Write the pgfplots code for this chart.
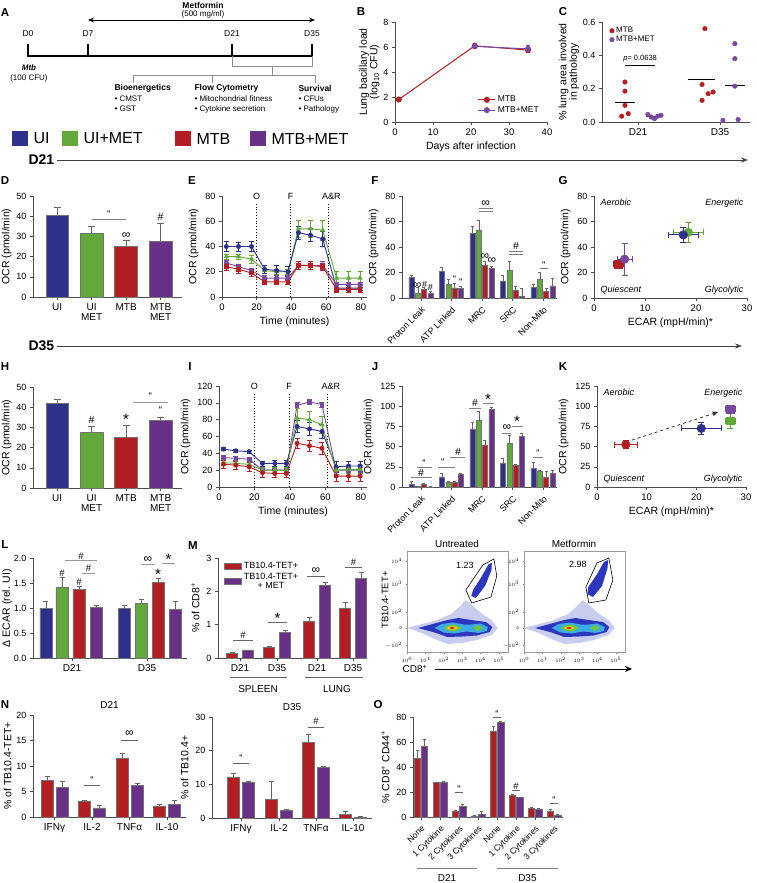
\documentclass[border=0pt]{standalone}
\usepackage{pgfplots}
\pgfplotsset{compat=1.18}
\usepackage{fontspec}
\setmainfont{Liberation Sans}
\usetikzlibrary{arrows.meta}
\definecolor{cUI}{RGB}{46,49,140}
\definecolor{cUM}{RGB}{98,168,58}
\definecolor{cMT}{RGB}{178,30,34}
\definecolor{cMM}{RGB}{104,48,135}
\definecolor{cMMl}{RGB}{118,72,158}
\definecolor{fS}{RGB}{200,205,240}
\definecolor{fB}{RGB}{45,55,190}
\definecolor{fC}{RGB}{60,170,230}
\definecolor{fG}{RGB}{110,200,60}
\definecolor{fY}{RGB}{240,215,40}
\definecolor{fR}{RGB}{220,40,30}
\newcommand{\fs}[1]{\fontsize{#1}{#1}\selectfont}
\newcommand{\qq}{{\fs{10}``}}
\newcommand{\inff}{{\fs{12}∞}}
\pgfplotsset{
  base/.style={scale only axis, anchor=south west, clip=false,
    axis x line*=bottom, axis y line*=left,
    axis line style={line width=0.7pt, black!70},
    every tick/.style={line width=0.6pt, black!70},
    tick align=outside, major tick length=3pt,
    font=\fs{9}, /pgf/number format/assume math mode=true,
    xlabel style={font=\fs{10.5}}, ylabel style={font=\fs{10.5}, align=center},
    xticklabel style={font=\fs{9.5}}, yticklabel style={font=\fs{9}}},
  mybar/.style={ybar, bar shift=0pt, fill=#1, draw=black!55, line width=0.5pt},
  ebp/.style={error bars/.cd, y dir=plus, y explicit,
    error bar style={line width=0.6pt, black!60},
    error mark options={rotate=90, mark size=#1, line width=0.6pt, black!60}},
  ebb/.style={error bars/.cd, y dir=both, y explicit,
    error bar style={line width=0.7pt},
    error mark options={rotate=90, mark size=#1, line width=0.7pt}},
  ebxy/.style={error bars/.cd, y dir=both, y explicit, x dir=both, x explicit,
    error bar style={line width=0.8pt},
    error mark options={rotate=90, mark size=#1, line width=0.8pt}},
  flow/.style={scale only axis, anchor=south west, axis lines=box,
    axis line style={black!40, line width=0.5pt}, xmin=0, xmax=5.5, ymin=0, ymax=101,
    width=101pt, height=101pt, xtick={0,...,5},
    xticklabels={$10^0$,$10^1$,$10^2$,$10^3$,$10^4$,$10^5$},
    ytick={7,24,40,68,91}, yticklabels={$-10^2$,0,$10^2$,$10^3$,$10^4$},
    tick label style={font=\fs{4}}, major tick length=1.5pt, tick align=outside,
    tick pos=left, every tick/.style={black!50}, clip=true},
}
\newcommand{\flowblobs}{%
  \addplot[fill=fS, draw=none] coordinates {(0,24) (0.8,19) (1.5,13) (2.2,8) (3,9) (3.8,12) (4.6,17) (4.95,24) (4.6,32) (4.1,38) (3.6,46) (3.2,52) (2.9,46) (2.4,38) (1.5,31) (0.8,28) (0,24)};
  \addplot[fill=fB, draw=none] coordinates {(0.6,24) (1.5,19.5) (2.2,15) (3,15.5) (3.8,16.5) (4.5,20) (4.65,25) (4.3,30) (3.5,32) (2.8,34) (2.2,32) (1.5,28.5) (0.6,24)};
  \addplot[fill=fC, draw=none] coordinates {(1.5,24) (2.0,19.5) (2.6,18.5) (3.2,20.5) (3.55,20) (3.9,19) (4.35,21) (4.4,25) (4.0,28.5) (3.5,27.5) (3.1,27.5) (2.5,29.5) (1.9,28) (1.5,24)};
  \addplot[fill=fG, draw=none] coordinates {(2.0,24) (2.3,20.8) (2.7,20.8) (3.0,24) (2.7,27.2) (2.3,27.2) (2.0,24)};
  \addplot[fill=fG, draw=none] coordinates {(3.6,24) (3.85,21) (4.15,24) (3.85,27) (3.6,24)};
  \addplot[fill=fY, draw=none] coordinates {(2.15,24) (2.45,21.8) (2.78,24) (2.45,26.2) (2.15,24)};
  \addplot[fill=fR, draw=none] coordinates {(2.3,24) (2.45,22.6) (2.62,24) (2.45,25.4) (2.3,24)};
}
\begin{document}
\begin{tikzpicture}[x=1pt,y=1pt]
\useasboundingbox (0,0) rectangle (756,-883);
% ---------- Panel A ----------
\node[font=\bfseries\fs{11.5}] at (5,-13) {A};
\node[font=\bfseries\fs{8.5}] at (203,-5) {Metformin};
\node[font=\fs{8}] at (203,-14.5) {(500 mg/ml)};
\draw[line width=0.8pt, {Stealth[length=6pt,width=5pt]}-{Stealth[length=6pt,width=5pt]}] (88,-20) -- (315,-20);
\foreach \x/\l in {28/D0, 88/D7, 232/D21, 312/D35} \node[font=\fs{8.5}] at (\x,-34) {\l};
\draw[line width=1.6pt] (28,-56) -- (313,-56);
\foreach \x in {28,88,232,312} \draw[line width=1.6pt] (\x,-56.8) -- (\x,-44);
\draw[black!45, line width=0.6pt] (232,-56) -- (232,-66) -- (312,-66) -- (312,-56);
\draw[black!45, line width=0.6pt] (272,-66) -- (272,-75);
\draw[black!45, line width=0.6pt] (133,-83) -- (133,-75) -- (315,-75) -- (315,-83);
\draw[black!45, line width=0.6pt] (212,-75) -- (212,-83);
\node[font=\bfseries\itshape\fs{8}] at (29,-68) {Mtb};
\node[font=\fs{8}] at (29,-78) {(100 CFU)};
\node[anchor=west, font=\bfseries\fs{8.5}] at (111,-88) {Bioenergetics};
\node[anchor=west, font=\fs{8}] at (111,-99) {• CMST};
\node[anchor=west, font=\fs{8}] at (111,-109) {• GST};
\node[anchor=west, font=\bfseries\fs{8.5}] at (191,-88) {Flow Cytometry};
\node[anchor=west, font=\fs{8}] at (191,-99) {• Mitochondrial fitness};
\node[anchor=west, font=\fs{8}] at (191,-109) {• Cytokine secretion};
\node[anchor=west, font=\bfseries\fs{8.5}] at (295,-88) {Survival};
\node[anchor=west, font=\fs{8}] at (295,-99) {• CFUs};
\node[anchor=west, font=\fs{8}] at (295,-109) {• Pathology};
% ---------- legend row and headers ----------
\foreach \x/\c/\l in {12/cUI/UI, 62/cUM/UI+MET, 175/cMT/MTB, 250/cMM/MTB+MET} {
  \fill[\c] (\x,-131) rectangle ++(16,-15);
  \node[anchor=west, font=\fs{16}] at (\x+18,-138.5) {\l};
}
\node[anchor=west, font=\bfseries\fs{14}] at (25,-160) {D21};
\draw[black!75, line width=0.6pt, -{Stealth[length=7pt,width=5pt]}] (57,-160) -- (748,-160);
\node[anchor=west, font=\bfseries\fs{14}] at (25,-346) {D35};
\draw[black!75, line width=0.6pt, -{Stealth[length=7pt,width=5pt]}] (57,-346) -- (742,-346);
% panel letters
\foreach \x/\y/\l in {361/12/B, 563/12/C, 5/181/D, 192/181/E, 375/181/F, 563/181/G, 5/367/H, 190/367/I, 375/367/J, 563/367/K, 5/545/L, 193/546/M, 5/705/N, 378/705/O}
  \node[font=\bfseries\fs{11.5}] at (\x,-\y) {\l};
% ---------- Panel B ----------
\begin{axis}[base, at={(395pt,-122pt)}, width=152pt, height=100pt, xmin=0, xmax=40, ymin=0, ymax=8,
  xtick={0,10,...,40}, ytick={0,2,...,8}, xlabel={Days after infection},
  ylabel={Lung bacillary load\\(log\textsubscript{10} CFU)}, ylabel style={yshift=-3pt},
  legend style={at={(0.98,0.04)}, anchor=south east, draw=none, fill=none, font=\fs{8.5}, row sep=-1pt},
  legend cell align=left]
\addplot[cMT, line width=1pt, mark=*, mark size=2.5pt, ebb=2pt] coordinates {(1,1.8)+-(0,0.05) (21,6.1)+-(0,0.1) (35,5.75)+-(0,0.2)};
\addlegendentry{MTB}
\addplot[cMMl, line width=1pt, mark=*, mark size=2.5pt, ebb=2pt] coordinates {(21,6.05)+-(0,0.05) (35,5.85)+-(0,0.25)};
\addlegendentry{MTB+MET}
\end{axis}
% ---------- Panel C ----------
\begin{axis}[base, at={(602pt,-122pt)}, width=148pt, height=100pt, xmin=0.12, xmax=3.73, ymin=0, ymax=0.6,
  ytick={0,0.2,0.4,0.6}, yticklabel style={/pgf/number format/.cd, fixed, fixed zerofill, precision=1},
  xtick={1,3}, xticklabels={D21,D35}, xticklabel style={font=\fs{10}},
  ylabel={\% lung area involved\\in pathology}, ylabel style={yshift=-3pt},
  legend style={at={(0.03,0.99)}, anchor=north west, draw=none, fill=none, font=\fs{8}, row sep=-2pt},
  legend cell align=left]
\addplot[only marks, mark=*, mark size=2.3pt, cMT, draw=cMT] coordinates {(0.68,0.24) (0.68,0.185) (0.68,0.1) (0.6,0.035) (0.76,0.05) (2.56,0.225) (2.56,0.13) (2.63,0.56) (2.71,0.17) (2.83,0.18)};
\addlegendentry{MTB}
\addplot[only marks, mark=*, mark size=2.3pt, cMMl, draw=cMMl] coordinates {(1.24,0.045) (1.32,0.03) (1.4,0.02) (1.48,0.035) (1.56,0.04) (3.36,0.47) (3.36,0.38) (3.07,0.01) (3.44,0.015) (3.36,0.215)};
\addlegendentry{MTB+MET}
\addplot[black, line width=0.9pt, forget plot] coordinates {(0.44,0.12) (0.92,0.12)};
\addplot[black, line width=0.9pt, forget plot] coordinates {(1.2,0.035) (1.6,0.035)};
\addplot[black, line width=0.9pt, forget plot] coordinates {(2.22,0.255) (2.88,0.255)};
\addplot[black, line width=0.9pt, forget plot] coordinates {(3.12,0.218) (3.61,0.218)};
\draw[black, line width=0.5pt] (axis cs:0.68,0.342) -- (axis cs:1.41,0.342);
\node[font=\fs{7.5}] at (axis cs:1.05,0.378) {\textit{p}= 0.0638};
\end{axis}
% ---------- Panel D ----------
\begin{axis}[base, at={(33pt,-297pt)}, width=149pt, height=101pt, xmin=0.3, xmax=4.62, ymin=0, ymax=50,
  ytick={0,10,...,50}, xtick={1,2,3,4}, xticklabels={UI,UI\\MET,MTB,MTB\\MET},
  xticklabel style={align=center, font=\fs{10}}, ylabel={OCR (pmol/min)}, ylabel style={yshift=-2pt}, bar width=0.66]
\addplot[mybar=cUI, ebp=3.5pt] coordinates {(1,40.5)+-(0,4)};
\addplot[mybar=cUM, ebp=3.5pt] coordinates {(2,31.5)+-(0,3.5)};
\addplot[mybar=cMT, ebp=3.5pt] coordinates {(3,25)+-(0,3)};
\addplot[mybar=cMM, ebp=3.5pt] coordinates {(4,27.5)+-(0,9)};
\draw[black!50, line width=0.6pt] (axis cs:2,38.5) -- (axis cs:3,38.5);
\node at (axis cs:2.5,41) {\qq};
\node at (axis cs:3,30.5) {\inff};
\node[font=\fs{10.5}] at (axis cs:4,39.5) {\#};
\end{axis}
% ---------- Panel E ----------
\begin{axis}[base, at={(222pt,-297pt)}, width=145pt, height=101pt, xmin=0, xmax=83.5, ymin=0, ymax=80,
  xtick={0,20,...,80}, ytick={0,20,...,80}, xlabel={Time (minutes)}, ylabel={OCR (pmol/min)}]
\draw[black, dotted, line width=0.8pt] (axis cs:20,0) -- (axis cs:20,75);
\draw[black, dotted, line width=0.8pt] (axis cs:39.5,0) -- (axis cs:39.5,75);
\draw[black, dotted, line width=0.8pt] (axis cs:61,0) -- (axis cs:61,75);
\node[font=\fs{9}] at (axis cs:20,80) {O};
\node[font=\fs{9}] at (axis cs:39.5,80) {F};
\node[font=\fs{9}] at (axis cs:63,80) {A\&R};
\addplot[cUM, line width=0.9pt, mark=triangle*, mark size=2.2pt, ebb=2.5pt] coordinates {(2.5,32)+-(0,2) (9.5,32)+-(0,2) (17,30)+-(0,3) (24.5,21)+-(0,2) (31.5,20)+-(0,2) (38,20)+-(0,2) (44,54)+-(0,7) (51,54)+-(0,7) (58,53)+-(0,8) (66,15)+-(0,5) (73,15)+-(0,5) (79.5,15)+-(0,5)};
\addplot[cUI, line width=0.9pt, mark=*, mark size=2pt, ebb=2.5pt] coordinates {(2.5,40)+-(0,4) (9.5,40)+-(0,3.5) (17,40)+-(0,4) (24.5,22)+-(0,3) (31.5,21)+-(0,4) (38,20)+-(0,4) (44,51)+-(0,5) (51,49)+-(0,5) (58,46)+-(0,6) (66,7)+-(0,2) (73,7)+-(0,2) (79.5,7)+-(0,2)};
\addplot[cMMl, line width=0.9pt, mark=*, mark size=2pt, ebb=2.5pt] coordinates {(2.5,27)+-(0,2) (9.5,24)+-(0,2) (17,21)+-(0,2) (24.5,15)+-(0,2) (31.5,15)+-(0,2) (38,15)+-(0,2) (44,25)+-(0,3) (51,25)+-(0,3) (58,25)+-(0,3) (66,10)+-(0,2) (73,10)+-(0,2) (79.5,10)+-(0,2)};
\addplot[cMT, line width=0.9pt, mark=square*, mark size=1.8pt, ebb=2.5pt] coordinates {(2.5,24)+-(0,3) (9.5,22)+-(0,3) (17,19)+-(0,3) (24.5,12)+-(0,2) (31.5,12)+-(0,2) (38,12)+-(0,2) (44,25)+-(0,3) (51,25)+-(0,3) (58,24)+-(0,3) (66,6)+-(0,2) (73,6)+-(0,2) (79.5,6)+-(0,2)};
\end{axis}
% ---------- Panel F ----------
\begin{axis}[base, at={(402pt,-298pt)}, width=155pt, height=102pt, xmin=-0.62, xmax=4.46, ymin=0, ymax=80,
  ytick={0,20,...,80}, xtick={0,...,4}, xticklabels={Proton Leak,ATP Linked,MRC,SRC,Non-Mito},
  xticklabel style={rotate=45, anchor=north east, font=\fs{9}}, ylabel={OCR (pmol/min)}, bar width=0.17]
\addplot[mybar=cUI, ebp=1.5pt] coordinates {(-0.31,16)+-(0,1.5) (0.69,21)+-(0,3) (1.69,50.5)+-(0,5.5) (2.69,13.5)+-(0,4.5) (3.69,8.5)+-(0,2.5)};
\addplot[mybar=cUM, ebp=1.5pt] coordinates {(-0.1,4)+-(0,4.5) (0.9,10.5)+-(0,4.5) (1.9,53)+-(0,8) (2.9,22)+-(0,6.5) (3.9,14.5)+-(0,5.5)};
\addplot[mybar=cMT, ebp=1.5pt] coordinates {(0.1,6.5)+-(0,2) (1.1,8)+-(0,3.5) (2.1,26)+-(0,3) (3.1,6)+-(0,3.5) (4.1,5)+-(0,3)};
\addplot[mybar=cMM, ebp=1.5pt] coordinates {(0.31,4)+-(0,1.5) (1.31,7.5)+-(0,1.5) (2.31,23.5)+-(0,1.5) (3.31,1.5)+-(0,6) (4.31,9.5)+-(0,6)};
\node at (axis cs:-0.12,10) {\inff};
\node[font=\fs{9}] at (axis cs:0.12,10.5) {\#};
\node[font=\fs{9}] at (axis cs:0.31,8.5) {\#};
\node at (axis cs:1.1,14.5) {\qq};
\node at (axis cs:1.31,12.5) {\qq};
\draw[black!50, line width=0.6pt] (axis cs:1.9,68) -- (axis cs:2.35,68);
\draw[black!50, line width=0.6pt] (axis cs:1.9,70.5) -- (axis cs:2.35,70.5);
\node at (axis cs:2.12,74) {\inff};
\node at (axis cs:2.1,32.5) {\inff};
\node at (axis cs:2.33,29.5) {\inff};
\draw[black!50, line width=0.6pt] (axis cs:2.9,34) -- (axis cs:3.35,34);
\draw[black!50, line width=0.6pt] (axis cs:2.9,36.5) -- (axis cs:3.35,36.5);
\node[font=\fs{10.5}] at (axis cs:3.12,41) {\#};
\draw[black!50, line width=0.6pt] (axis cs:3.9,23) -- (axis cs:4.15,23);
\node at (axis cs:4.03,26) {\qq};
\end{axis}
% ---------- Panel G ----------
\begin{axis}[base, at={(594pt,-298pt)}, width=153pt, height=102pt, xmin=0, xmax=30, ymin=0, ymax=80,
  xtick={0,10,20,30}, ytick={0,20,...,80}, xlabel={ECAR (mpH/min)*}, ylabel={OCR (pmol/min)}]
\node[anchor=north west, font=\itshape\fs{9}] at (rel axis cs:0.02,1.01) {Aerobic};
\node[anchor=north east, font=\itshape\fs{9}] at (rel axis cs:1,1.01) {Energetic};
\node[anchor=south west, font=\itshape\fs{9}] at (rel axis cs:0.02,0.0) {Quiescent};
\node[anchor=south east, font=\itshape\fs{9}] at (rel axis cs:1,0.0) {Glycolytic};
\addplot[cUM, only marks, mark=*, mark size=4.3pt, ebxy=3pt] coordinates {(18.5,51.5)+-(3,8)};
\addplot[cUI, only marks, mark=*, mark size=4.3pt, ebxy=3pt] coordinates {(17.5,49.5)+-(3,6)};
\addplot[cMT, only marks, mark=square*, mark size=3.8pt, ebxy=3pt] coordinates {(4.8,26.5)+-(1,3)};
\addplot[cMMl, only marks, mark=*, mark size=4.3pt, ebxy=3pt] coordinates {(6,30.5)+-(1.5,12.5)};
\end{axis}
% ---------- Panel H ----------
\begin{axis}[base, at={(33pt,-488pt)}, width=149pt, height=101pt, xmin=0.3, xmax=4.62, ymin=0, ymax=50,
  ytick={0,10,...,50}, xtick={1,2,3,4}, xticklabels={UI,UI\\MET,MTB,MTB\\MET},
  xticklabel style={align=center, font=\fs{10}}, ylabel={OCR (pmol/min)}, ylabel style={yshift=-2pt}, bar width=0.66]
\addplot[mybar=cUI, ebp=3.5pt] coordinates {(1,42)+-(0,2)};
\addplot[mybar=cUM, ebp=3.5pt] coordinates {(2,27.5)+-(0,3)};
\addplot[mybar=cMT, ebp=3.5pt] coordinates {(3,25)+-(0,6)};
\addplot[mybar=cMM, ebp=3.5pt] coordinates {(4,33.5)+-(0,1.5)};
\node[font=\fs{10.5}] at (axis cs:2,33.5) {\#};
\node[font=\fs{15}] at (axis cs:3,34) {*};
\node at (axis cs:4,38.5) {\qq};
\draw[black!40, line width=1pt] (axis cs:3.2,42.5) -- (axis cs:4.2,42.5);
\node at (axis cs:3.7,45.3) {\qq};
\end{axis}
% ---------- Panel I ----------
\begin{axis}[base, at={(219pt,-487pt)}, width=148pt, height=101pt, xmin=0, xmax=83.4, ymin=0, ymax=120,
  xtick={0,20,...,80}, ytick={0,20,...,120}, xlabel={Time (minutes)}, ylabel={OCR (pmol/min)}]
\draw[black, dotted, line width=0.8pt] (axis cs:20,0) -- (axis cs:20,112);
\draw[black, dotted, line width=0.8pt] (axis cs:39.5,0) -- (axis cs:39.5,112);
\draw[black, dotted, line width=0.8pt] (axis cs:61,0) -- (axis cs:61,112);
\node[font=\fs{9}] at (axis cs:20,120) {O};
\node[font=\fs{9}] at (axis cs:39.5,120) {F};
\node[font=\fs{9}] at (axis cs:63,120) {A\&R};
\addplot[cMMl, line width=0.9pt, mark=square*, mark size=1.8pt, ebb=2.5pt] coordinates {(2.5,35)+-(0,2) (9.5,34)+-(0,2) (17,33)+-(0,2) (24.5,20)+-(0,2) (31.5,20)+-(0,2) (38,20)+-(0,2) (44,97)+-(0,3) (51,101)+-(0,3) (58,98)+-(0,3) (66,20)+-(0,3) (73,20)+-(0,3) (79.5,20)+-(0,3)};
\addplot[cUI, line width=0.9pt, mark=*, mark size=2pt, ebb=2.5pt] coordinates {(2.5,45)+-(0,2) (9.5,43)+-(0,2) (17,42)+-(0,2) (24.5,28)+-(0,3) (31.5,28)+-(0,4) (38,28)+-(0,4) (44,72)+-(0,7) (51,69)+-(0,8) (58,66)+-(0,8) (66,24)+-(0,6) (73,25)+-(0,6) (79.5,25)+-(0,6)};
\addplot[cUM, line width=0.9pt, mark=triangle*, mark size=2.2pt, ebb=2.5pt] coordinates {(2.5,29)+-(0,3) (9.5,28)+-(0,3) (17,27)+-(0,3) (24.5,20)+-(0,3) (31.5,20)+-(0,3) (38,20)+-(0,3) (44,82)+-(0,12) (51,80)+-(0,10) (58,74)+-(0,10) (66,20)+-(0,5) (73,21)+-(0,5) (79.5,21)+-(0,5)};
\addplot[cMT, line width=0.9pt, mark=*, mark size=2pt, ebb=2.5pt] coordinates {(2.5,27)+-(0,5) (9.5,26)+-(0,5) (17,24)+-(0,5) (24.5,17)+-(0,5) (31.5,16)+-(0,5) (38,16)+-(0,5) (44,52)+-(0,6) (51,49)+-(0,7) (58,46)+-(0,7) (66,13)+-(0,6) (73,13)+-(0,6) (79.5,13)+-(0,6)};
\end{axis}
% ---------- Panel J ----------
\begin{axis}[base, at={(402pt,-487pt)}, width=155pt, height=101pt, xmin=-0.62, xmax=4.46, ymin=0, ymax=125,
  ytick={0,25,...,125}, xtick={0,...,4}, xticklabels={Proton Leak,ATP Linked,MRC,SRC,Non-Mito},
  xticklabel style={rotate=45, anchor=north east, font=\fs{9}}, ylabel={OCR (pmol/min)}, bar width=0.17]
\addplot[mybar=cUI, ebp=1.5pt] coordinates {(-0.31,3)+-(0,4) (0.69,12.5)+-(0,5) (1.69,72)+-(0,8) (2.69,29)+-(0,7) (3.69,23.5)+-(0,7)};
\addplot[mybar=cUM, ebp=1.5pt] coordinates {(-0.1,0.5)+-(0,0.5) (0.9,6)+-(0,1) (1.9,82)+-(0,12) (2.9,54.5)+-(0,9) (3.9,19.5)+-(0,1)};
\addplot[mybar=cMT, ebp=1.5pt] coordinates {(0.1,3)+-(0,1) (1.1,6.5)+-(0,1) (2.1,52)+-(0,6) (3.1,26.5)+-(0,2) (4.1,12.5)+-(0,7)};
\addplot[mybar=cMM, ebp=1.5pt] coordinates {(0.31,0.3)+-(0,0.2) (1.31,16)+-(0,1) (2.31,96)+-(0,3) (3.31,62.5)+-(0,4) (4.31,17.5)+-(0,3)};
\draw[black!50, line width=0.6pt] (axis cs:-0.13,25) -- (axis cs:0.36,25);
\node at (axis cs:0.1,29.5) {\qq};
\draw[black!50, line width=0.6pt] (axis cs:-0.33,12) -- (axis cs:0.36,12);
\node[font=\fs{10.5}] at (axis cs:0.0,17.5) {\#};
\draw[black!50, line width=0.6pt] (axis cs:0.56,25) -- (axis cs:1.12,25);
\node at (axis cs:0.72,30.5) {\qq};
\draw[black!50, line width=0.6pt] (axis cs:0.95,37) -- (axis cs:1.45,37);
\node[font=\fs{10.5}] at (axis cs:1.22,44) {\#};
\draw[black!50, line width=0.6pt] (axis cs:1.58,98) -- (axis cs:1.97,98);
\node[font=\fs{10.5}] at (axis cs:1.77,104) {\#};
\draw[black!50, line width=0.6pt] (axis cs:2.04,103) -- (axis cs:2.4,103);
\node[font=\fs{15}] at (axis cs:2.2,109) {*};
\draw[black!50, line width=0.6pt] (axis cs:2.66,67) -- (axis cs:2.95,67);
\node at (axis cs:2.82,73) {\inff};
\draw[black!50, line width=0.6pt] (axis cs:2.99,75) -- (axis cs:3.35,75);
\node[font=\fs{15}] at (axis cs:3.15,81) {*};
\draw[black!50, line width=0.6pt] (axis cs:3.67,37) -- (axis cs:4.0,37);
\node at (axis cs:3.84,42.5) {\qq};
\end{axis}
% ---------- Panel K ----------
\begin{axis}[base, at={(597pt,-487pt)}, width=149pt, height=101pt, xmin=0, xmax=30, ymin=0, ymax=125,
  xtick={0,10,20,30}, ytick={0,25,...,125}, xlabel={ECAR (mpH/min)*}, ylabel={OCR (pmol/min)}]
\node[anchor=north west, font=\itshape\fs{9}] at (rel axis cs:0.02,1.01) {Aerobic};
\node[anchor=north east, font=\itshape\fs{9}] at (rel axis cs:1,1.01) {Energetic};
\node[anchor=south west, font=\itshape\fs{9}] at (rel axis cs:0.02,0.0) {Quiescent};
\node[anchor=south east, font=\itshape\fs{9}] at (rel axis cs:1,0.0) {Glycolytic};
\draw[black!80, dashed, line width=0.8pt, -{Latex[length=6pt,width=5pt]}] (axis cs:7,58) -- (axis cs:24.5,93);
\addplot[cUI, only marks, mark=*, mark size=4.3pt, ebxy=3pt] coordinates {(21,72.5)+-(4,7)};
\addplot[cUM, only marks, mark=square*, mark size=3.8pt, ebxy=3pt] coordinates {(26.8,82)+-(1,10)};
\addplot[cMMl, only marks, mark=square*, mark size=3.8pt, ebxy=3pt] coordinates {(26.8,96)+-(1,4)};
\addplot[cMT, only marks, mark=*, mark size=4.3pt, ebxy=3pt] coordinates {(5.8,52.5)+-(2.3,5)};
\end{axis}
% ---------- Panel L ----------
\begin{axis}[base, at={(33pt,-658pt)}, width=154pt, height=100pt, xmin=0, xmax=154, ymin=0, ymax=2,
  ytick={0,0.5,...,2}, yticklabel style={/pgf/number format/.cd, fixed, fixed zerofill, precision=1},
  xtick={39,114}, xticklabels={D21,D35}, xticklabel style={font=\fs{10}},
  ylabel={Δ ECAR (rel. UI)}, ylabel style={yshift=-5pt}, bar width=12]
\addplot[mybar=cUI, ebp=2.5pt] coordinates {(13,1.0)+-(0,0.13) (91,0.99)+-(0,0.06)};
\addplot[mybar=cUM, ebp=2.5pt] coordinates {(29,1.42)+-(0,0.2) (108,1.1)+-(0,0.07)};
\addplot[mybar=cMT, ebp=2.5pt] coordinates {(46,1.38)+-(0,0.05) (125,1.52)+-(0,0.08)};
\addplot[mybar=cMM, ebp=2.5pt] coordinates {(63,1.01)+-(0,0.04) (142,0.97)+-(0,0.17)};
\node[font=\fs{9.5}] at (axis cs:29,1.7) {\#};
\node[font=\fs{9.5}] at (axis cs:46,1.51) {\#};
\draw[black!40, line width=1pt] (axis cs:32,1.95) -- (axis cs:64,1.95);
\node[font=\fs{9.5}] at (axis cs:48,2.03) {\#};
\draw[black!40, line width=1pt] (axis cs:49,1.7) -- (axis cs:62,1.7);
\node[font=\fs{9.5}] at (axis cs:55.5,1.79) {\#};
\draw[black!40, line width=1pt] (axis cs:108,1.88) -- (axis cs:122,1.88);
\node at (axis cs:115,1.96) {\inff};
\node[font=\fs{15}] at (axis cs:125,1.68) {*};
\draw[black!40, line width=1pt] (axis cs:129,1.9) -- (axis cs:142,1.9);
\node[font=\fs{15}] at (axis cs:135.5,1.98) {*};
\end{axis}
% ---------- Panel M ----------
\begin{axis}[base, at={(218pt,-658pt)}, width=149pt, height=100pt, xmin=0, xmax=149, ymin=0, ymax=3,
  ytick={0,1,2,3}, xtick={22,59,99,135}, xticklabels={D21,D35,D21,D35}, xticklabel style={font=\fs{10}},
  ylabel={\% of CD8\textsuperscript{+}}, bar width=11, area legend,
  legend style={at={(0.02,1.0)}, anchor=north west, draw=none, fill=none, font=\fs{9}, row sep=-1pt, cells={align=center}},
  legend cell align=left]
\addplot[mybar=cMT, ebp=2.5pt] coordinates {(14,0.15)+-(0,0.02) (51,0.33)+-(0,0.03) (91,1.1)+-(0,0.11) (127,1.5)+-(0,0.16)};
\addlegendentry{TB10.4-TET+}
\addplot[mybar=cMM, ebp=2.5pt] coordinates {(30,0.22)+-(0,0.02) (67,0.78)+-(0,0.05) (107,2.17)+-(0,0.1) (143,2.4)+-(0,0.17)};
\addlegendentry{TB10.4-TET+\\+ MET}
\draw[black!60, line width=0.6pt] (axis cs:15,0.54) -- (axis cs:35,0.54);
\node[font=\fs{9.5}] at (axis cs:25,0.69) {\#};
\draw[black!60, line width=0.6pt] (axis cs:50,1.08) -- (axis cs:69,1.08);
\node[font=\fs{15}] at (axis cs:59.5,1.2) {*};
\draw[black!60, line width=0.6pt] (axis cs:89,2.46) -- (axis cs:107,2.46);
\node at (axis cs:98,2.62) {\inff};
\draw[black!60, line width=0.6pt] (axis cs:127,2.73) -- (axis cs:144,2.73);
\node[font=\fs{9.5}] at (axis cs:135.5,2.87) {\#};
\draw[black!60, line width=0.6pt] (axis cs:12,-0.57) -- (axis cs:69,-0.57);
\node[font=\fs{10}] at (axis cs:40,-0.93) {SPLEEN};
\draw[black!60, line width=0.6pt] (axis cs:87,-0.57) -- (axis cs:145,-0.57);
\node[font=\fs{10}] at (axis cs:119,-0.93) {LUNG};
\end{axis}
% ---------- Flow plots ----------
\node[font=\fs{10}] at (457,-544) {Untreated};
\node[font=\fs{10}] at (574,-544) {Metformin};
\begin{axis}[flow, at={(407pt,-652pt)}]
\flowblobs
\addplot[fill=fB, draw=none] coordinates {(3.5,56) (3.75,54) (4.25,66) (4.6,82) (4.62,89) (4.45,88) (4.05,75) (3.6,62) (3.5,56)};
\addplot[black, line width=0.6pt] coordinates {(3.2,62) (3.53,49) (4.57,55) (4.89,76) (4.73,93) (4.13,87) (3.2,62)};
\node[font=\fs{9}] at (axis cs:3.15,87) {1.23};
\end{axis}
\begin{axis}[flow, at={(524pt,-652pt)}]
\flowblobs
\addplot[fill=fB, draw=none] coordinates {(3.45,58) (3.75,55) (4.25,66) (4.55,84) (4.58,92) (4.35,90) (3.95,77) (3.5,65) (3.45,58)};
\addplot[black, line width=0.6pt] coordinates {(3.37,65) (3.53,49) (4.46,52) (4.84,72) (4.62,94) (3.97,89) (3.37,65)};
\node[font=\fs{9}] at (axis cs:2.93,88) {2.98};
\end{axis}
\node[rotate=90, font=\fs{9.5}] at (385,-600) {TB10.4-TET+};
\node[font=\fs{10}] at (415,-669) {CD8\textsuperscript{+}};
\draw[black, line width=0.8pt, -{Stealth[length=7pt,width=6pt]}] (435,-669) -- (632,-669);
% ---------- Panel N (D21) ----------
\begin{axis}[base, at={(33pt,-817pt)}, width=153pt, height=102pt, xmin=0, xmax=153, ymin=0, ymax=20,
  ytick={0,5,...,20}, xtick={21.5,59,96.5,134}, xticklabels={IFNγ,IL-2,TNFα,IL-10}, xticklabel style={font=\fs{10}},
  ylabel={\% of TB10.4-TET+}, ylabel style={yshift=-2pt}, bar width=12, title={D21}, title style={font=\fs{10}, yshift=-3pt}]
\addplot[mybar=cMT, ebp=2.5pt] coordinates {(14,7.2)+-(0,0.8) (51.5,3.0)+-(0,0.3) (89,11.6)+-(0,0.9) (126.5,2.2)+-(0,0.3)};
\addplot[mybar=cMM, ebp=2.5pt] coordinates {(29,5.8)+-(0,1.2) (66.5,1.8)+-(0,0.5) (104,6.2)+-(0,0.5) (141.5,2.5)+-(0,0.7)};
\draw[black!60, line width=0.6pt] (axis cs:51,6.3) -- (axis cs:67,6.3);
\node at (axis cs:59,7.3) {\qq};
\draw[black!60, line width=0.6pt] (axis cs:88,15) -- (axis cs:105,15);
\node at (axis cs:96.5,16.4) {\inff};
\end{axis}
% ---------- Panel N (D35) ----------
\begin{axis}[base, at={(212pt,-818pt)}, width=160pt, height=101pt, xmin=0, xmax=160, ymin=0, ymax=30,
  ytick={0,10,20,30}, xtick={29,67,104,141}, xticklabels={IFNγ,IL-2,TNFα,IL-10}, xticklabel style={font=\fs{10}},
  ylabel={\% of TB10.4+}, bar width=12, title={D35}, title style={font=\fs{10}, yshift=-3pt}]
\addplot[mybar=cMT, ebp=2.5pt] coordinates {(21.5,12.2)+-(0,1) (59.5,5.6)+-(0,5.3) (96.5,22.5)+-(0,2.5) (133.5,1.1)+-(0,1)};
\addplot[mybar=cMM, ebp=2.5pt] coordinates {(36.5,10.5)+-(0,0.5) (74.5,2.3)+-(0,0.2) (111.5,15)+-(0,0.4) (148.5,0.3)+-(0,0.1)};
\draw[black!60, line width=0.6pt] (axis cs:21,16.3) -- (axis cs:37,16.3);
\node at (axis cs:29,17.7) {\qq};
\draw[black!60, line width=0.6pt] (axis cs:96,27) -- (axis cs:112,27);
\node[font=\fs{9.5}] at (axis cs:104,28.7) {\#};
\end{axis}
% ---------- Panel O ----------
\begin{axis}[base, at={(413pt,-817pt)}, width=150pt, height=100pt, xmin=-0.42, xmax=7.47, ymin=0, ymax=80,
  ytick={0,20,...,80}, xtick={0,...,7},
  xticklabels={None,1 Cytokine,2 Cytokines,3 Cytokines,None,1 Cytokine,2 Cytokines,3 Cytokines},
  xticklabel style={rotate=45, anchor=north east, font=\fs{8.5}},
  ylabel={\% CD8\textsuperscript{+} CD44\textsuperscript{+}}, bar width=0.33]
\addplot[mybar=cMT, ebp=1.5pt] coordinates {(-0.19,47)+-(0,6) (0.81,27.5)+-(0,0.5) (1.81,5)+-(0,0.6) (2.81,1)+-(0,0.3) (3.81,68.5)+-(0,4) (4.81,17.5)+-(0,0.8) (5.81,7)+-(0,0.6) (6.81,4.5)+-(0,2)};
\addplot[mybar=cMM, ebp=1.5pt] coordinates {(0.19,57)+-(0,5) (1.19,28)+-(0,0.6) (2.19,8.5)+-(0,2) (3.19,2)+-(0,2.5) (4.19,76)+-(0,0.5) (5.19,15.5)+-(0,0.5) (6.19,6.5)+-(0,0.5) (7.19,1.5)+-(0,0.3)};
\draw[black!60, line width=0.6pt] (axis cs:1.8,19.5) -- (axis cs:2.2,19.5);
\node at (axis cs:2,22) {\qq};
\draw[black!60, line width=0.6pt] (axis cs:3.8,80) -- (axis cs:4.2,80);
\node at (axis cs:4,82.5) {\qq};
\draw[black!60, line width=0.6pt] (axis cs:4.8,21) -- (axis cs:5.2,21);
\node[font=\fs{9.5}] at (axis cs:5,24.5) {\#};
\draw[black!60, line width=0.6pt] (axis cs:6.8,10.7) -- (axis cs:7.2,10.7);
\node at (axis cs:7,13.2) {\qq};
\draw[black!50, line width=0.8pt] (axis cs:-0.2,-40.8) -- (axis cs:2.95,-40.8);
\node[font=\fs{10}] at (axis cs:1.37,-48.8) {D21};
\draw[black!50, line width=0.8pt] (axis cs:4.0,-40.8) -- (axis cs:7.2,-40.8);
\node[font=\fs{10}] at (axis cs:5.6,-48.8) {D35};
\end{axis}
\end{tikzpicture}
\end{document}
